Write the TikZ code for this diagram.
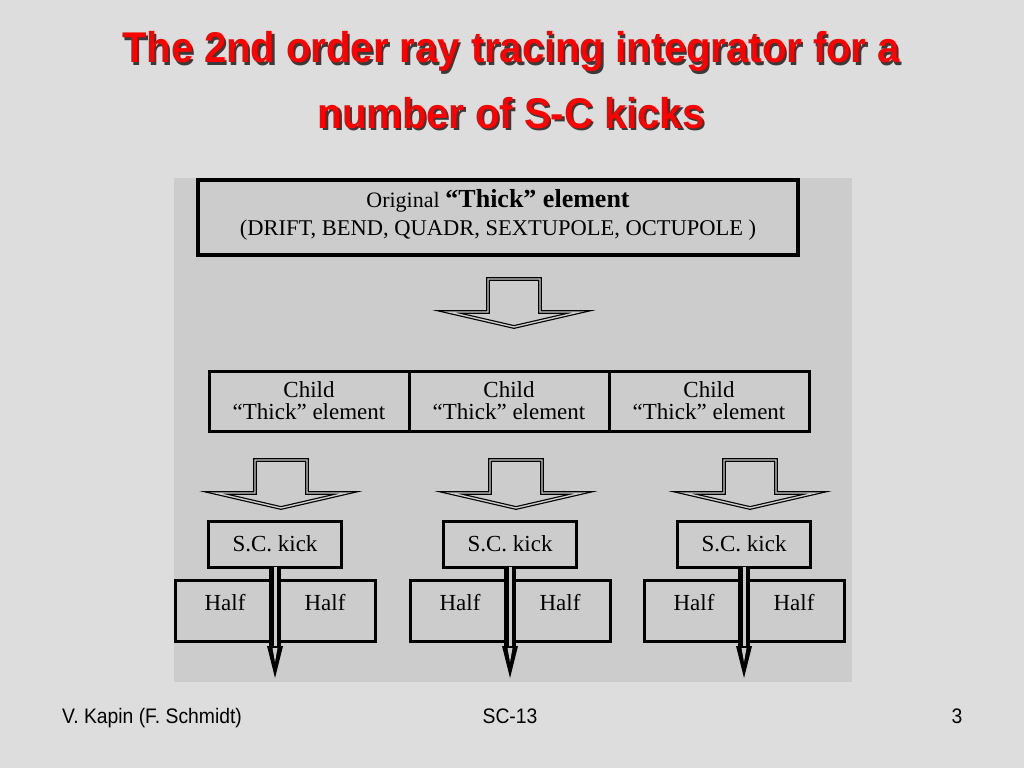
\documentclass[tikz,border=0pt]{standalone}
\usepackage{fontspec}
\setmainfont{Liberation Serif}
\newfontfamily\slidefont{Liberation Sans}
\usetikzlibrary{positioning}
\definecolor{slidegray}{HTML}{DDDDDD}
\definecolor{panelgray}{HTML}{CCCCCC}
\definecolor{titlered}{HTML}{FF0000}
\definecolor{shadowgray}{HTML}{3A3A3A}
\tikzset{box/.style = {draw, line width=3pt, fill=panelgray, inner sep=0, outer sep=0,
                       align=center, font=\fontsize{23}{22}\selectfont}}
\tikzset{hollow/.style = {draw, line width=1.2pt, double=panelgray, double distance=1.4pt,
                          fill=panelgray, line join=miter}}
\tikzset{shaft/.style = {draw, line width=4.5pt, double=panelgray, double distance=3pt}}
\tikzset{title/.style = {anchor=base, text=titlered, xscale=0.93,
                         font=\slidefont\bfseries\fontsize{43}{43}\selectfont}}
\tikzset{foot/.style = {anchor=base, inner sep=0, xscale=0.92, font=\slidefont\fontsize{21}{21}\selectfont}}
\newcommand{\shadowed}[1]{\rlap{\kern2.5pt\raisebox{-2.5pt}{\color{shadowgray}#1}}#1}
\newcommand{\hollowarrow}[1]{%
  \draw [hollow] (#1) ++(-26,0) -- ++(52,0) -- ++(0,33) -- ++(39,0)
    -- ++(-65,15) -- ++(-65,-15) -- ++(39,0) -- cycle;}

\begin{document}
\begin{tikzpicture}[x=1pt, y=-1pt]
    \useasboundingbox (0,0) rectangle (1024,768);
    \fill [slidegray] (0,0) rectangle (1024,768);
    \fill [panelgray] (174,178) rectangle (852,682);
    % title
    \node [title] (title1) at (511,63) {\shadowed{The 2nd order ray tracing integrator for a}};
    \node [title] (title2) at (511,128) {\shadowed{number of S-C kicks}};
    % original element
    \node [box, line width=3.5pt, minimum width=600pt, minimum height=75pt, text depth=11pt] (orig) at (498,217.5)
      {{\fontsize{22}{22}\selectfont Original} {\fontsize{26}{26}\selectfont\bfseries “Thick” element}\\[6pt]
       {\fontsize{22.5}{22.5}\selectfont (DRIFT, BEND, QUADR, SEXTUPOLE, OCTUPOLE )}};
    \hollowarrow{514,279}
    % child elements
    \foreach \i/\x in {1/309, 2/509, 3/709} {
      \node [box, minimum width=200pt, minimum height=60pt] (child\i) at (\x,401)
        {Child\\“Thick” element};
    }
    % kicks and halves
    \foreach \i/\cx in {1/275, 2/510, 3/744} {
      \begin{scope}[shift={(\cx, 0)}]
        \hollowarrow{6,460}
        \node [box, minimum width=133pt, minimum height=46pt] (kick\i) at (0,544) {S.C. kick};
        \node [box, minimum width=100pt, minimum height=61pt, text depth=17pt] (halfL\i) at (-50,610.5) {Half};
        \node [box, minimum width=100pt, minimum height=61pt, text depth=17pt] (halfR\i) at (50,610.5) {Half};
        \coordinate (shaftend\i) at (0,646);
        \coordinate (tip\i) at (0,678);
        \draw [shaft] (kick\i.south) -- (shaftend\i);
        \fill (shaftend\i) ++(-8,0) -- ++(16,0) -- (tip\i) -- cycle;
        \fill [panelgray] (shaftend\i) ++(-2.5,2) -- ++(5,0) -- ++(-2.5,14) -- cycle;
      \end{scope}
    }
    % footer
    \node [foot, anchor=base west] (author) at (62,723) {V. Kapin (F. Schmidt)};
    \node [foot] (talk) at (510,723) {SC-13};
    \node [foot] (page) at (957,723) {3};
\end{tikzpicture}
\end{document}
